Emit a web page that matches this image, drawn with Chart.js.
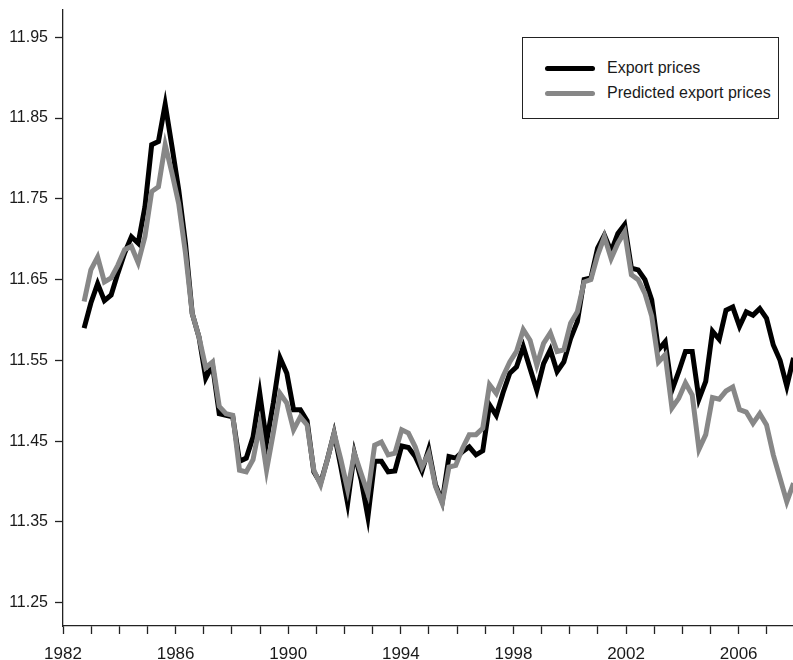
<!DOCTYPE html>
<html>
<head>
<meta charset="utf-8">
<script src="https://cdn.jsdelivr.net/npm/chart.js@4"></script>
<style>
  html, body { margin: 0; padding: 0; background: #fff; }
  #wrap { position: relative; width: 793px; height: 660px; overflow: hidden; }
  #legend {
    position: absolute; left: 522px; top: 37px; width: 257px; height: 82px;
    border: 1px solid #222; box-sizing: border-box; background: #fff;
    font: 16px "Liberation Sans", Arial, sans-serif; color: #1a1a1a;
  }
  .row { position: absolute; left: 22px; height: 20px; display: flex; align-items: center; white-space: nowrap; }
  .sw { width: 50px; height: 5px; border-radius: 2.5px; margin-right: 12px; }
</style>
</head>
<body>
<div id="wrap">
  <canvas id="c" width="793" height="660"></canvas>
  <div id="legend"></div>
</div>
<script>
// ---- data ----
const seriesNames = ['Export prices', 'Predicted export prices'];
const seriesColors = ['#000000', '#878787'];

// decimal year of the first observation and spacing between observations
const firstPeriod = 1982.75;
const periodStep = 0.24;

const exportPrices = [
  11.590, 11.621, 11.645, 11.624, 11.631, 11.658, 11.683, 11.703, 11.695, 11.740,
  11.817, 11.821, 11.867, 11.815, 11.761, 11.695, 11.608, 11.579, 11.528, 11.544,
  11.484, 11.482, 11.480, 11.425, 11.429, 11.455, 11.509, 11.449, 11.497, 11.553,
  11.534, 11.489, 11.489, 11.475, 11.412, 11.398, 11.427, 11.460, 11.418, 11.373,
  11.435, 11.402, 11.356, 11.425, 11.425, 11.412, 11.413, 11.444, 11.442, 11.431,
  11.413, 11.440, 11.396, 11.375, 11.431, 11.429, 11.437, 11.443, 11.433, 11.438,
  11.495, 11.482, 11.510, 11.534, 11.542, 11.567, 11.540, 11.513, 11.546, 11.563,
  11.536, 11.548, 11.577, 11.598, 11.650, 11.652, 11.689, 11.705, 11.685, 11.707,
  11.718, 11.664, 11.662, 11.650, 11.625, 11.563, 11.573, 11.513, 11.536, 11.561,
  11.561, 11.502, 11.524, 11.586, 11.576, 11.612, 11.616, 11.592, 11.610, 11.606,
  11.614, 11.602, 11.569, 11.550, 11.518, 11.553
];

const predictedPrices = [
  11.623, 11.662, 11.678, 11.647, 11.652, 11.668, 11.687, 11.691, 11.671, 11.703,
  11.759, 11.765, 11.817, 11.782, 11.744, 11.683, 11.608, 11.579, 11.541, 11.548,
  11.493, 11.484, 11.482, 11.414, 11.412, 11.427, 11.470, 11.414, 11.460, 11.509,
  11.497, 11.464, 11.480, 11.470, 11.414, 11.396, 11.427, 11.460, 11.427, 11.390,
  11.435, 11.410, 11.385, 11.445, 11.449, 11.433, 11.435, 11.464, 11.460, 11.443,
  11.418, 11.435, 11.394, 11.373, 11.418, 11.420, 11.441, 11.458, 11.458, 11.466,
  11.520, 11.509, 11.530, 11.548, 11.561, 11.588, 11.575, 11.544, 11.571, 11.584,
  11.561, 11.563, 11.596, 11.610, 11.647, 11.650, 11.680, 11.703, 11.676, 11.695,
  11.709, 11.656, 11.650, 11.633, 11.605, 11.548, 11.557, 11.491, 11.503, 11.522,
  11.507, 11.440, 11.458, 11.504, 11.502, 11.512, 11.517, 11.489, 11.486, 11.472,
  11.484, 11.470, 11.433, 11.404, 11.375, 11.398
];

const yTickValues = [11.25, 11.35, 11.45, 11.55, 11.65, 11.75, 11.85, 11.95];
const xTickYears = [1982, 1983, 1984, 1985, 1986, 1987, 1988, 1989, 1990, 1991, 1992, 1993, 1994,
                    1995, 1996, 1997, 1998, 1999, 2000, 2001, 2002, 2003, 2004, 2005, 2006, 2007];
const xLabelYears = [1982, 1986, 1990, 1994, 1998, 2002, 2006];
const xRange = [1982, 2007.93];
const yRange = [11.2211, 11.9838];

// ---- build ----
function toPoints(values) {
  return values.map((v, i) => ({ x: firstPeriod + i * periodStep, y: v }));
}

const axisColor = '#222';
const textColor = '#1a1a1a';
const fontFamily = '"Liberation Sans", Arial, sans-serif';

new Chart(document.getElementById('c'), {
  type: 'line',
  data: {
    datasets: [
      { label: seriesNames[0], data: toPoints(exportPrices), borderColor: seriesColors[0],
        borderWidth: 5, pointRadius: 0, tension: 0, fill: false, order: 1 },
      { label: seriesNames[1], data: toPoints(predictedPrices), borderColor: seriesColors[1],
        borderWidth: 5, pointRadius: 0, tension: 0, fill: false, order: 0 }
    ]
  },
  options: {
    responsive: false,
    animation: false,
    layout: { padding: { top: 10, left: 0, right: 0, bottom: 0 } },
    plugins: { legend: { display: false }, tooltip: { enabled: false } },
    scales: {
      x: {
        type: 'linear', min: xRange[0], max: xRange[1],
        afterBuildTicks: s => { s.ticks = xTickYears.map(v => ({ value: v })); },
        afterFit: s => { s.height = 34; s.paddingLeft = 0; s.paddingRight = 0; },
        grid: { drawOnChartArea: false, drawTicks: true, tickLength: 8, tickColor: axisColor, tickWidth: 1.3 },
        border: { display: true, color: axisColor, width: 1.3 },
        ticks: {
          autoSkip: false, maxRotation: 0, minRotation: 0, padding: 10, color: textColor,
          font: { family: fontFamily, size: 17 },
          callback: v => xLabelYears.includes(Math.round(v)) ? String(Math.round(v)) : ''
        }
      },
      y: {
        type: 'linear', min: yRange[0], max: yRange[1],
        afterBuildTicks: s => { s.ticks = yTickValues.map(v => ({ value: v })); },
        afterFit: s => { s.width = 63; s.paddingTop = 0; s.paddingBottom = 0; },
        grid: { drawOnChartArea: false, drawTicks: true, tickLength: 8, tickColor: axisColor, tickWidth: 1.3 },
        border: { display: true, color: axisColor, width: 1.3 },
        ticks: {
          padding: 7, color: textColor,
          font: { family: fontFamily, size: 16 },
          callback: v => Number(v).toFixed(2)
        }
      }
    }
  }
});

// legend (HTML text)
const legend = document.getElementById('legend');
seriesNames.forEach((name, i) => {
  const row = document.createElement('div');
  row.className = 'row';
  row.style.top = (20 + i * 25) + 'px';
  const sw = document.createElement('span');
  sw.className = 'sw';
  sw.style.background = seriesColors[i];
  const tx = document.createElement('span');
  tx.textContent = name;
  row.appendChild(sw); row.appendChild(tx);
  legend.appendChild(row);
});
</script>
</body>
</html>
